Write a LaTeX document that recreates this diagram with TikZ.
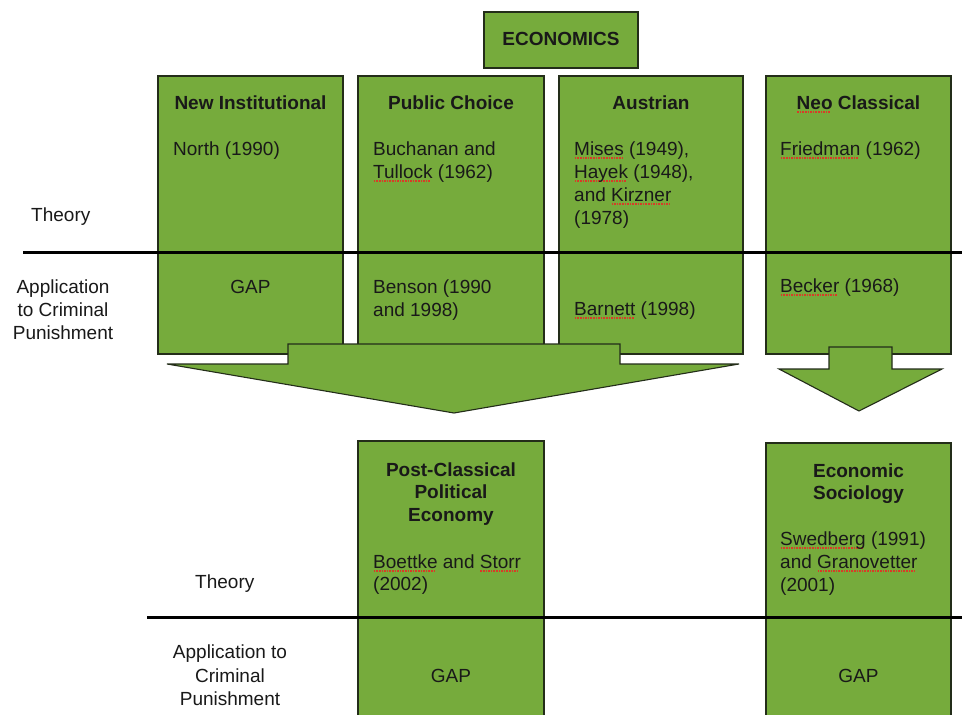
\documentclass[tikz,border=0pt]{standalone}
\usepackage{fontspec}
\setmainfont{Liberation Sans}
\definecolor{boxgreen}{RGB}{118,171,60}
\definecolor{boxline}{RGB}{35,45,25}
\definecolor{ink}{RGB}{25,25,25}
\definecolor{squig}{RGB}{215,60,40}
\newcommand\sq[1]{\setbox0\hbox{#1}\leavevmode\rlap{\color{squig}\raisebox{-3.6pt}{\leaders\hbox to 2.6pt{\hss\rule{1.6pt}{1.4pt}\hss}\hskip\wd0}}#1}
\begin{document}
\begin{tikzpicture}[x=1pt,y=-1pt,
  box/.style={draw=boxline,fill=boxgreen,line width=1.1pt,inner sep=0pt},
  txt/.style={inner sep=0pt,text=ink,font=\fontsize{19}{23}\selectfont},
  ttl/.style={txt,font=\fontsize{19}{23}\selectfont\bfseries,anchor=base},
  lft/.style={txt,anchor=base west},
  ctr/.style={txt,anchor=base},
  rulel/.style={line width=3pt,draw=black}]
\useasboundingbox[fill=white] (0,0) rectangle (962,715);
\clip (0,0) rectangle (962,715);
% boxes
\node[box,minimum width=154,minimum height=56] (econ) at (561,40) {};
\node[box,minimum width=185,minimum height=278] (ni) at (250.5,215) {};
\node[box,minimum width=186,minimum height=278] (pc) at (451,215) {};
\node[box,minimum width=184,minimum height=278] (au) at (651,215) {};
\node[box,minimum width=185,minimum height=278] (nc) at (858.5,215) {};
\node[box,minimum width=186,minimum height=279] (pce) at (451,580.5) {};
\node[box,minimum width=185,minimum height=277] (es) at (858.5,581.5) {};
% block arrows
\draw[box] (288,344) -- (620,344) -- (620,364) -- (739,364) -- (454,413) -- (167,364) -- (288,364) -- cycle;
\draw[box] (829,347) -- (892,347) -- (892,369) -- (942,369) -- (859,411) -- (779,369) -- (829,369) -- cycle;
% divider lines
\coordinate (l1a) at (23,252); \coordinate (l1b) at (962,252);
\coordinate (l2a) at (147,617); \coordinate (l2b) at (962,617);
\draw[rulel] (l1a) -- (l1b);
\draw[rulel] (l2a) -- (l2b);
% titles
\node[ttl] (econt) at (561,45) {ECONOMICS};
\node[ttl] (nit) at (250.5,109) {New Institutional};
\node[ttl] (pct) at (451,109) {Public Choice};
\node[ttl] (aut) at (651,109) {Austrian};
\node[ttl] (nct) at (858.5,109) {\sq{Neo} Classical};
\node[ttl] (pcet1) at (451,476) {Post-Classical};
\node[ttl] (pcet2) at (451,498.5) {Political};
\node[ttl] (pcet3) at (451,521) {Economy};
\node[ttl] (est1) at (858.5,477) {Economic};
\node[ttl] (est2) at (858.5,499) {Sociology};
% references, theory row
\node[lft] (r1) at (173,155) {North (1990)};
\node[lft] (r2a) at (373,155) {Buchanan and};
\node[lft] (r2b) at (373,178) {\sq{Tullock} (1962)};
\node[lft] (r3a) at (574,155) {\sq{Mises} (1949),};
\node[lft] (r3b) at (574,178) {\sq{Hayek} (1948),};
\node[lft] (r3c) at (574,201) {and \sq{Kirzner}};
\node[lft] (r3d) at (574,224) {(1978)};
\node[lft] (r4) at (780,155) {\sq{Friedman} (1962)};
% application row
\node[ctr] (a1) at (250.5,293) {GAP};
\node[lft] (a2a) at (373,293) {Benson (1990};
\node[lft] (a2b) at (373,316) {and 1998)};
\node[lft] (a3) at (574,315) {\sq{Barnett} (1998)};
\node[lft] (a4) at (780,292) {\sq{Becker} (1968)};
% bottom boxes
\node[lft] (b1a) at (373,568) {\sq{Boettke} and \sq{Storr}};
\node[lft] (b1b) at (373,590) {(2002)};
\node[lft] (b2a) at (780,545) {\sq{Swedberg} (1991)};
\node[lft] (b2b) at (780,568) {and \sq{Granovetter}};
\node[lft] (b2c) at (780,591) {(2001)};
\node[ctr] (g1) at (451,682) {GAP};
\node[ctr] (g2) at (858.5,682) {GAP};
% side labels
\node[lft] (th1) at (31,221) {Theory};
\node[ctr] (ap1a) at (63,293) {Application};
\node[ctr] (ap1b) at (63,316) {to Criminal};
\node[ctr] (ap1c) at (63,339) {Punishment};
\node[lft] (th2) at (195,588) {Theory};
\node[ctr] (ap2a) at (230,658) {Application to};
\node[ctr] (ap2b) at (230,682) {Criminal};
\node[ctr] (ap2c) at (230,705) {Punishment};
\end{tikzpicture}
\end{document}
